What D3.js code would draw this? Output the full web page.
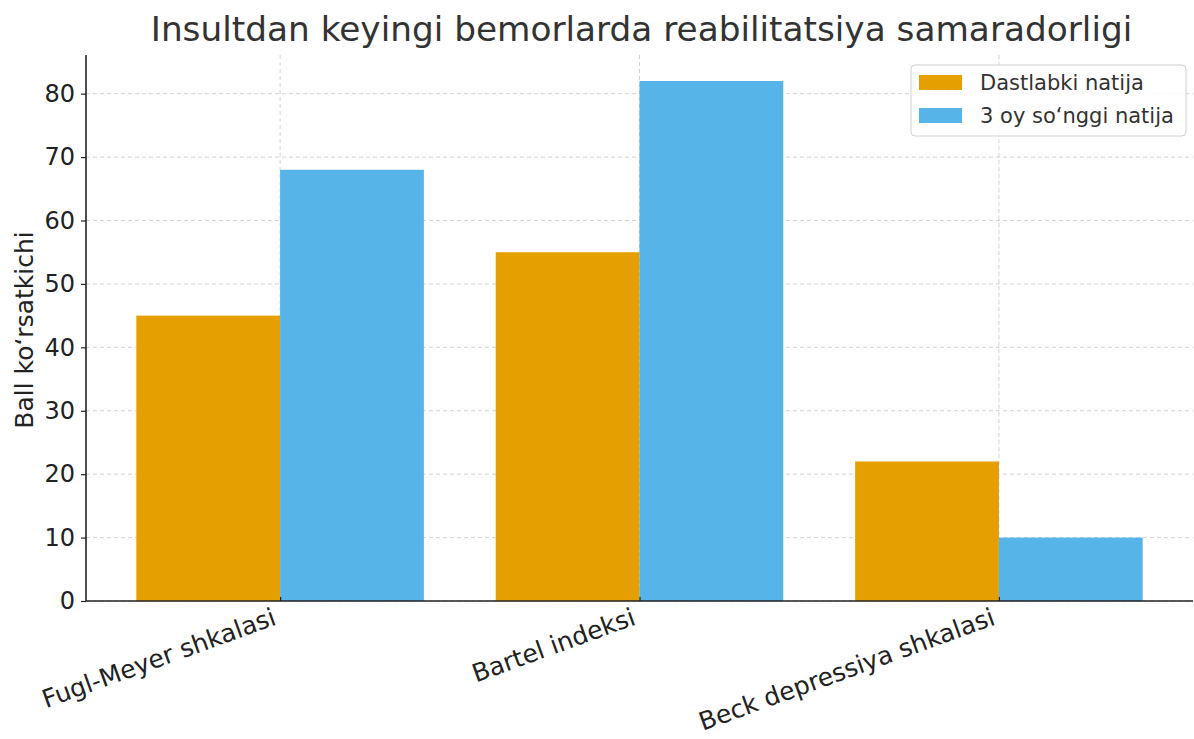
<!DOCTYPE html>
<html>
<head>
<meta charset="utf-8">
<script src="https://cdn.jsdelivr.net/npm/d3@7"></script>
<style>
  body { margin: 0; background: #fff; }
  svg { font-family: "DejaVu Sans", sans-serif; }
</style>
</head>
<body>
<svg id="chart"></svg>
<script>
const categories = ["Fugl-Meyer shkalasi", "Bartel indeksi", "Beck depressiya shkalasi"];
const seriesNames = ["Dastlabki natija", "3 oy so\u2018nggi natija"];
const before = [45, 55, 22];
const after = [68, 82, 10];
const yTicks = [0, 10, 20, 30, 40, 50, 60, 70, 80];
const colors = ["#E69F00", "#56B4E9"];

const width = 1194;
const height = 739;
const margin = { top: 55, right: 1, bottom: 138, left: 86 };
const innerW = width - margin.left - margin.right;
const innerH = height - margin.top - margin.bottom;

const svg = d3.select("#chart").attr("width", width).attr("height", height);
const g = svg.append("g").attr("transform", `translate(${margin.left},${margin.top})`);

const barW = 0.4;
const x = d3.scaleLinear().domain([-0.54, 2.54]).range([0, innerW]);
const y = d3.scaleLinear().domain([0, 86.1]).range([innerH, 0]);

// grid
g.append("g")
  .selectAll("line")
  .data(yTicks)
  .join("line")
  .attr("x1", 0)
  .attr("x2", innerW)
  .attr("y1", (d) => y(d))
  .attr("y2", (d) => y(d))
  .attr("stroke", "#c8c8c8")
  .attr("stroke-width", 0.8)
  .attr("stroke-dasharray", "4,3");

g.append("g")
  .selectAll("line")
  .data(categories)
  .join("line")
  .attr("x1", (d, i) => x(i))
  .attr("x2", (d, i) => x(i))
  .attr("y1", 0)
  .attr("y2", innerH)
  .attr("stroke", "#c8c8c8")
  .attr("stroke-width", 0.8)
  .attr("stroke-dasharray", "4,3");

// bars
const series = [before, after];
series.forEach((vals, s) => {
  g.append("g")
    .selectAll("rect")
    .data(vals)
    .join("rect")
    .attr("x", (d, i) => x(i + (s === 0 ? -barW : 0)))
    .attr("width", x(barW) - x(0))
    .attr("y", (d) => y(d))
    .attr("height", (d) => y(0) - y(d))
    .attr("fill", colors[s]);
});

// y axis
const yAxis = g.append("g")
  .call(d3.axisLeft(y).tickValues(yTicks).tickSize(5).tickPadding(6));
yAxis.select(".domain").attr("stroke", "#222").attr("stroke-width", 1.6).attr("d", `M0,0V${innerH}`);
yAxis.selectAll(".tick line").attr("stroke", "#222").attr("stroke-width", 1.2);
yAxis.selectAll("text")
  .attr("fill", "#222")
  .style("font-size", "24px")
  .style("font-family", "DejaVu Sans");

// x axis
const xAxis = g.append("g")
  .attr("transform", `translate(0,${innerH})`)
  .call(d3.axisBottom(x).tickValues([0, 1, 2]).tickSize(-4).tickFormat((d) => categories[d]));
xAxis.select(".domain").attr("stroke", "#222").attr("stroke-width", 1.6).attr("d", `M0,0H${innerW}`);
xAxis.selectAll(".tick line").attr("stroke", "#222").attr("stroke-width", 1.2);
xAxis.selectAll("text")
  .attr("fill", "#222")
  .attr("text-anchor", "end")
  .attr("dy", null)
  .attr("y", 0)
  .attr("transform", "translate(-3,23) rotate(-20)")
  .style("font-size", "25px")
  .style("font-family", "DejaVu Sans");

// title
svg.append("text")
  .attr("x", margin.left + innerW / 2 + 2)
  .attr("y", 41)
  .attr("text-anchor", "middle")
  .attr("fill", "#333")
  .style("font-size", "34.3px")
  .text("Insultdan keyingi bemorlarda reabilitatsiya samaradorligi");

// y label
svg.append("text")
  .attr("transform", `translate(33,${margin.top + innerH / 2 + 2}) rotate(-90)`)
  .attr("text-anchor", "middle")
  .attr("fill", "#222")
  .style("font-size", "25px")
  .text("Ball ko\u2018rsatkichi");

// legend
const legend = svg.append("g").attr("transform", "translate(911,65)");
legend.append("rect")
  .attr("width", 275)
  .attr("height", 71)
  .attr("rx", 4)
  .attr("fill", "#fff")
  .attr("fill-opacity", 0.85)
  .attr("stroke", "#d0d0d0");
seriesNames.forEach((name, i) => {
  legend.append("rect")
    .attr("x", 8)
    .attr("y", 10 + i * 33)
    .attr("width", 43)
    .attr("height", 15)
    .attr("fill", colors[i]);
  legend.append("text")
    .attr("x", 69)
    .attr("y", 25 + i * 33)
    .attr("fill", "#333")
    .style("font-size", "21px")
    .text(name);
});
</script>
</body>
</html>
